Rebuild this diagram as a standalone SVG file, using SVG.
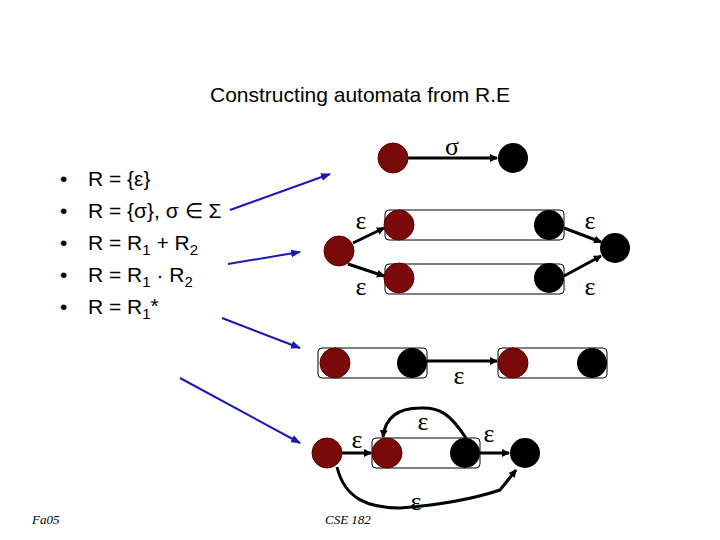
<svg xmlns="http://www.w3.org/2000/svg" width="720" height="540" viewBox="0 0 720 540">
<style>
.t{font-family:"Liberation Sans",sans-serif;font-size:21px;fill:#000}
.g{font-family:"Liberation Serif",serif;font-size:26px;fill:#000}
.r{fill:#7a0a0a;stroke:#5a0000;stroke-width:1}
.b{fill:#000}
.box{fill:none;stroke:#000;stroke-width:1}
.e{stroke:#000;stroke-width:3;fill:none;marker-end:url(#ah)}
.bl{stroke:#1a1ab0;stroke-width:2;fill:none;marker-end:url(#bh)}
.f{font-family:"Liberation Serif",serif;font-style:italic;font-size:13px}
</style>
<defs>
<marker id="ah" markerWidth="8" markerHeight="8" refX="7" refY="4" orient="auto" markerUnits="userSpaceOnUse"><path d="M0,0 L8,4 L0,8z" fill="#000"/></marker>
<marker id="bh" markerWidth="10" markerHeight="8" refX="9" refY="4" orient="auto" markerUnits="userSpaceOnUse"><path d="M0,0 L10,4 L0,8z" fill="#1a1ab0"/></marker>
</defs>
<text x="360" y="102" text-anchor="middle" class="t" font-size="24">Constructing automata from R.E</text>
<g id="list" class="t">
<text x="60" y="186">•</text><text x="88" y="186">R = {ε}</text>
<text x="60" y="218">•</text><text x="88" y="218">R = {σ}, σ ∈ Σ</text>
<text x="60" y="250">•</text><text x="88" y="250">R = R<tspan font-size="15" dy="5">1</tspan><tspan dy="-5"> + R</tspan><tspan font-size="15" dy="5">2</tspan></text>
<text x="60" y="282">•</text><text x="88" y="282">R = R<tspan font-size="15" dy="5">1</tspan><tspan dy="-5"> · R</tspan><tspan font-size="15" dy="5">2</tspan></text>
<text x="60" y="314">•</text><text x="88" y="314">R = R<tspan font-size="15" dy="5">1</tspan><tspan dy="-6">*</tspan></text>
</g>
<g id="connectors">
<line class="bl" x1="230" y1="210" x2="330" y2="174"/>
<line class="bl" x1="228" y1="264" x2="300" y2="252"/>
<line class="bl" x1="222" y1="318" x2="300" y2="348"/>
<line class="bl" x1="180" y1="378" x2="300" y2="443"/>
<line class="e" x1="408" y1="158" x2="497" y2="158"/>
<line class="e" x1="353" y1="243" x2="384" y2="228"/>
<line class="e" x1="348" y1="264" x2="384" y2="276"/>
<line class="e" x1="564" y1="228" x2="601" y2="242"/>
<line class="e" x1="564" y1="276" x2="601" y2="256"/>
<line class="e" x1="427" y1="361" x2="497" y2="361"/>
<line class="e" x1="342" y1="453" x2="371" y2="453"/>
<line class="e" x1="480" y1="453" x2="509" y2="453"/>
<path class="e" d="M466,438 C450,414 440,407 420,408 C395,408 385,420 383,437"/>
<path class="e" d="M337,467 C345,500 370,508 400,508 C440,505 470,500 500,490 L516,470"/>
</g>
<g id="n-sigma"><circle class="r" cx="393" cy="158" r="15"/><circle class="b" cx="513" cy="158" r="15"/><text class="g" x="452" y="155" text-anchor="middle">σ</text></g>
<g id="n-union">
<rect class="box" x="385" y="210" width="179" height="30" rx="4"/>
<rect class="box" x="385" y="264" width="179" height="30" rx="4"/>
<circle class="r" cx="339" cy="251" r="15"/>
<circle class="r" cx="399" cy="225" r="15"/><circle class="r" cx="399" cy="278" r="15"/>
<circle class="b" cx="549" cy="225" r="15"/><circle class="b" cx="549" cy="278" r="15"/>
<circle class="b" cx="615" cy="248" r="15"/>
</g>
<g class="g" text-anchor="middle"><text x="361" y="229">ε</text><text x="361" y="295">ε</text><text x="590" y="229">ε</text><text x="590" y="295">ε</text></g>
<g id="n-concat">
<rect class="box" x="318" y="348" width="109" height="30" rx="4"/>
<rect class="box" x="498" y="348" width="109" height="30" rx="4"/>
<circle class="r" cx="335" cy="363" r="15"/><circle class="b" cx="412" cy="363" r="15"/>
<circle class="r" cx="513" cy="363" r="15"/><circle class="b" cx="592" cy="363" r="15"/>
<text class="g" x="459" y="384" text-anchor="middle">ε</text>
</g>
<g id="n-star">
<rect class="box" x="372" y="438" width="108" height="30" rx="4"/>
<circle class="r" cx="327" cy="453" r="15"/>
<circle class="r" cx="387" cy="453" r="15"/><circle class="b" cx="465" cy="453" r="15"/>
<circle class="b" cx="525" cy="453" r="15"/>
<g class="g" text-anchor="middle"><text x="357" y="448">ε</text><text x="423" y="430">ε</text><text x="489" y="442">ε</text><text x="416" y="510">ε</text></g>
</g>
<text class="f" x="32" y="524">Fa05</text>
<text class="f" x="325" y="524">CSE 182</text>
</svg>
